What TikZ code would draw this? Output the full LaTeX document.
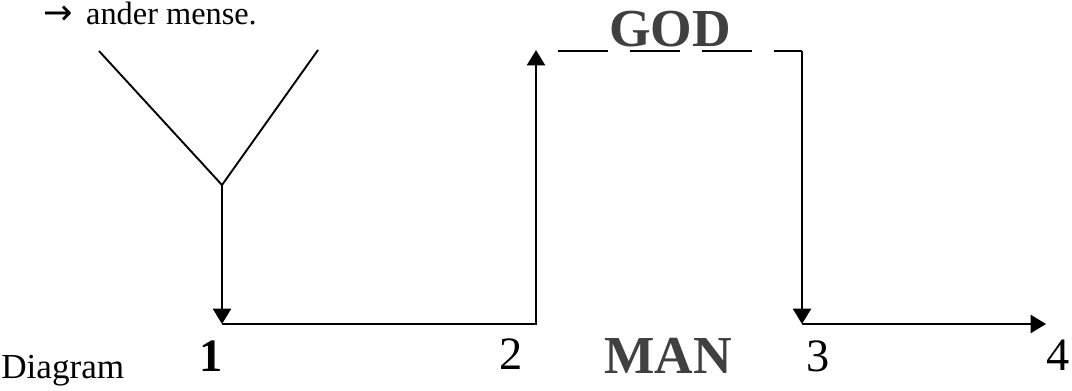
\documentclass[tikz,border=0pt]{standalone}
\usepackage{fontspec}
\setmainfont{Liberation Serif}
\newfontfamily\arrowfont{DejaVu Sans}
\usetikzlibrary{arrows.meta}
\tikzset{
  stem/.style={line width=1.35pt},
  flow/.style={stem,-{Triangle[width=13pt,length=11pt]}},
  numlabel/.style={font=\fontsize{33}{33}\selectfont},
  realm/.style={font=\bfseries\fontsize{38}{38}\selectfont,text=black!75},
  prose/.style={font=\fontsize{23}{23}\selectfont,anchor=base west,inner sep=0pt},
}
\begin{document}
\begin{tikzpicture}[x=.025cm,y=-.025cm]
  \useasboundingbox (0,0) rectangle (1072,390);
  % corner points of the path
  \coordinate (armL) at (99,51);
  \coordinate (armR) at (318,50);
  \coordinate (fork) at (222,185);
  \coordinate (p1) at (222,324);
  \coordinate (p2) at (536,324);
  \coordinate (top2) at (536,50);
  \coordinate (dashA) at (558,51);
  \coordinate (dashB) at (802,51);
  \coordinate (p3) at (802,324);
  \coordinate (p4) at (1046,324);
  \draw[stem] (armL) -- (fork) -- (armR);
  \draw[flow] (fork) -- (p1);
  \draw[flow] (p1) -- (p2) -- (top2);
  \draw[stem,dash pattern=on 35.6pt off 15.6pt] (dashA) -- (dashB);
  \draw[flow] (dashB) -- (p3);
  \draw[flow] (p3) -- (p4);
  % labels
  \node[prose] (note) at (43,24) {{\arrowfont\fontsize{25}{25}\selectfont →}\, ander mense.};
  \node[prose,font=\fontsize{25}{25}\selectfont] (caption) at (1,378) {Diagram};
  \node[realm] (god) at (670,29) {GOD};
  \node[realm] (man) at (668,356) {MAN};
  \node[numlabel,font=\bfseries\fontsize{33}{33}\selectfont] (n1) at (211,356) {1};
  \node[numlabel] (n2) at (511,354) {2};
  \node[numlabel] (n3) at (818,356) {3};
  \node[numlabel] (n4) at (1058,355) {4};
\end{tikzpicture}
\end{document}
